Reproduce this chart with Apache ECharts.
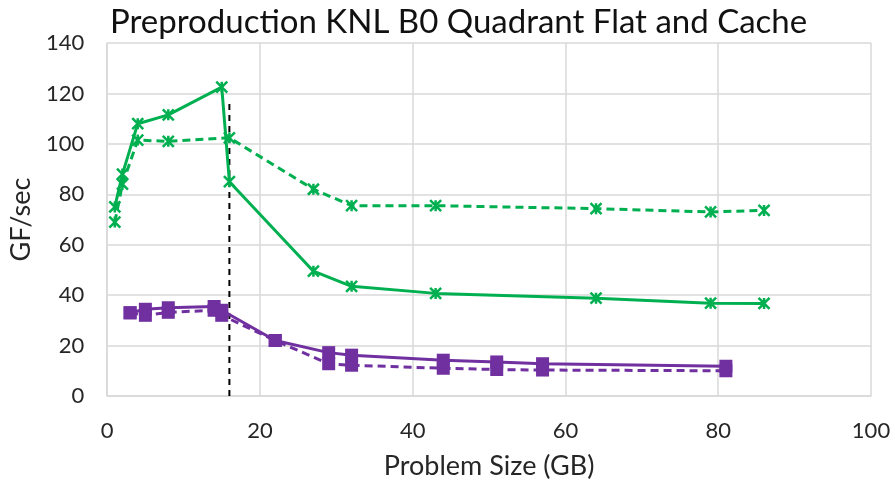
<!DOCTYPE html>
<html>
<head>
<meta charset="utf-8">
<script src="https://cdn.jsdelivr.net/npm/echarts@6/dist/echarts.min.js"></script>
<style>html,body{margin:0;padding:0;background:#fff}#c{width:895px;height:485px}</style>
</head>
<body>
<div id="c"></div>
<script>
const titleText = 'Preproduction KNL B0 Quadrant Flat and Cache';
const xName = 'Problem Size (GB)';
const yName = 'GF/sec';

const greenSolidX = [1, 2, 4, 8, 15, 16, 27, 32, 43, 64, 79, 86];
const greenSolidY = [75, 88, 108, 111.5, 122.5, 85, 49.5, 43.5, 40.7, 38.8, 36.8, 36.7];
const greenDashX = [1, 2, 4, 8, 16, 27, 32, 43, 64, 79, 86];
const greenDashY = [69, 84, 101.5, 101, 102.4, 82, 75.5, 75.5, 74.3, 73, 73.6];
const purpleSolidX = [3, 5, 8, 14, 15, 22, 29, 32, 44, 51, 57, 81];
const purpleSolidY = [33, 34.4, 35, 35.5, 34, 22, 17.2, 16.2, 14.2, 13.5, 12.8, 11.8];
const purpleDashX = [3, 5, 8, 14, 15, 22, 29, 32, 44, 51, 57, 81];
const purpleDashY = [33, 32, 33.2, 34, 32, 22, 12.8, 12.2, 11, 10.5, 10.3, 10];
const markerX = [16, 16];
const markerY = [0, 116];

const xTicks = [0, 20, 40, 60, 80, 100];
const yTicks = [0, 20, 40, 60, 80, 100, 120, 140];

const GREEN = '#00B050';
const PURPLE = '#7030A0';
const star = 'path://M0,0L10,10M10,0L0,10M5,0L5,10';

function zip(xs, ys) { return xs.map((x, i) => [x, ys[i]]); }

const chart = echarts.init(document.getElementById('c'), null, {renderer: 'canvas'});
const font = 'Lato, "Open Sans", sans-serif';
chart.setOption({
  animation: false,
  backgroundColor: '#fff',
  title: {
    text: titleText, left: 105, top: 1,
    textStyle: {fontFamily: font, fontSize: 33, fontWeight: 'normal', color: '#111'}
  },
  grid: {left: 106, right: 24, top: 43, bottom: 88, containLabel: false},
  xAxis: {
    type: 'value', min: xTicks[0], max: xTicks[xTicks.length - 1], interval: 20,
    name: xName, nameLocation: 'middle', nameGap: 57,
    nameTextStyle: {fontFamily: font, fontSize: 27, color: '#262626'},
    axisLine: {show: true, lineStyle: {color: '#d9d9d9', width: 1.5}},
    axisTick: {show: false},
    splitLine: {show: true, lineStyle: {color: '#d9d9d9', width: 1.5}},
    axisLabel: {fontFamily: font, fontSize: 22, color: '#262626', margin: 24}
  },
  yAxis: {
    type: 'value', min: yTicks[0], max: yTicks[yTicks.length - 1], interval: 20,
    name: yName, nameLocation: 'middle', nameGap: 68, nameRotate: 90,
    nameTextStyle: {fontFamily: font, fontSize: 27, color: '#262626'},
    axisLine: {show: true, lineStyle: {color: '#d9d9d9', width: 1.5}},
    axisTick: {show: false},
    splitLine: {show: true, lineStyle: {color: '#d9d9d9', width: 1.5}},
    axisLabel: {fontFamily: font, fontSize: 22, color: '#262626', margin: 23}
  },
  series: [
    {type: 'line', data: zip(markerX, markerY), symbol: 'none', z: 1,
     lineStyle: {color: '#000', width: 2, type: [6, 5]}},
    {type: 'line', data: zip(greenDashX, greenDashY), symbol: star, symbolSize: 11,
     itemStyle: {color: GREEN, borderColor: GREEN, borderWidth: 2.5},
     lineStyle: {color: GREEN, width: 3, type: [8, 5]}},
    {type: 'line', data: zip(greenSolidX, greenSolidY), symbol: star, symbolSize: 11,
     itemStyle: {color: GREEN, borderColor: GREEN, borderWidth: 2.5},
     lineStyle: {color: GREEN, width: 3}},
    {type: 'line', data: zip(purpleDashX, purpleDashY), symbol: 'rect', symbolSize: 13,
     itemStyle: {color: PURPLE},
     lineStyle: {color: PURPLE, width: 3, type: [8, 5]}},
    {type: 'line', data: zip(purpleSolidX, purpleSolidY), symbol: 'rect', symbolSize: 13,
     itemStyle: {color: PURPLE},
     lineStyle: {color: PURPLE, width: 3}}
  ]
});
</script>
</body>
</html>
